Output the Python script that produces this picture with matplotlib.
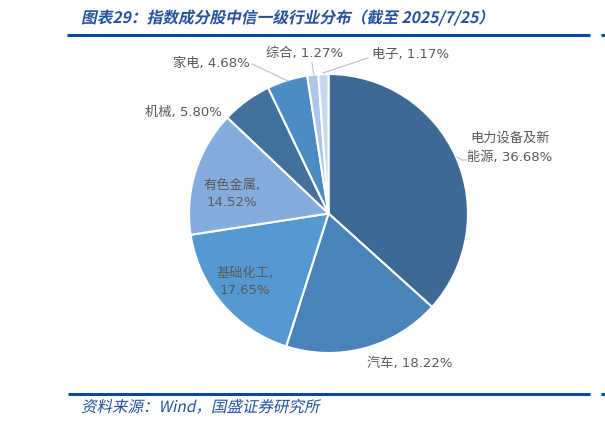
import matplotlib
matplotlib.use("Agg")
import matplotlib.pyplot as plt
from matplotlib.textpath import TextPath
from matplotlib.patches import PathPatch
from matplotlib.font_manager import FontProperties
from matplotlib.transforms import Affine2D

# 指数成分股中信一级行业分布（截至 2025/7/25）
industries = ["电力设备及新能源", "汽车", "基础化工", "有色金属", "机械", "家电", "综合", "电子"]
shares = [36.68, 18.22, 17.65, 14.52, 5.80, 4.68, 1.27, 1.17]
colors = ["#3D6A94", "#4A83B9", "#5599D3", "#84ACDC", "#42719E", "#4C8BC4", "#AEC6E7", "#C5D8EF"]

title = "图表29：指数成分股中信一级行业分布（截至 2025/7/25）"
source = "资料来源：Wind，国盛证券研究所"

W, H = 605, 426
fam = ["DejaVu Sans", "Noto Sans CJK SC"]
blue = "#1F4E9A"
grey = "#595959"

fig = plt.figure(figsize=(W / 100, H / 100), dpi=100)
ax = fig.add_axes([0, 0, 1, 1])
ax.set_xlim(0, W)
ax.set_ylim(0, H)
ax.set_aspect("equal")
ax.axis("off")


def py(y):
    # pixel row (from top) to data y
    return H - y


def slanted(x, y_base, s, size, weight="normal", color=blue):
    # CJK fonts have no italic face, so shear the glyph outlines by hand
    fp = FontProperties(family="Noto Sans CJK SC", weight=weight)
    tp = TextPath((0, 0), s, size=size, prop=fp)
    tr = Affine2D().skew_deg(12, 0).translate(x, py(y_base)) + ax.transData
    ax.add_patch(PathPatch(tp, transform=tr, facecolor=color, edgecolor="none"))


ax.pie(shares, colors=colors, startangle=90, counterclock=False,
       center=(328.5, py(213.5)), radius=139.5,
       wedgeprops=dict(edgecolor="white", linewidth=1.5))
ax.set_xlim(0, W)
ax.set_ylim(0, H)

lab = lambda s: f"{s:.2f}%"

# data labels
ax.text(510, py(138), "电力设备及新", ha="center", va="center", fontsize=9.5, family=fam, color=grey)
ax.text(510, py(158), f"能源, {lab(shares[0])}", ha="center", va="center", fontsize=9.5, family=fam, color=grey)
ax.text(410, py(363), f"汽车, {lab(shares[1])}", ha="center", va="center", fontsize=9.5, family=fam, color=grey)
ax.text(245, py(273), "基础化工,", ha="center", va="center", fontsize=9.5, family=fam, color=grey)
ax.text(245, py(290), lab(shares[2]), ha="center", va="center", fontsize=9.5, family=fam, color=grey)
ax.text(232, py(185), "有色金属,", ha="center", va="center", fontsize=9.5, family=fam, color=grey)
ax.text(232, py(202), lab(shares[3]), ha="center", va="center", fontsize=9.5, family=fam, color=grey)
ax.text(222, py(112), f"机械, {lab(shares[4])}", ha="right", va="center", fontsize=9.5, family=fam, color=grey)
ax.text(250, py(63), f"家电, {lab(shares[5])}", ha="right", va="center", fontsize=9.5, family=fam, color=grey)
ax.text(305, py(54), f"综合, {lab(shares[6])}", ha="center", va="center", fontsize=9.5, family=fam, color=grey)
ax.text(372, py(54), f"电子, {lab(shares[7])}", ha="left", va="center", fontsize=9.5, family=fam, color=grey)

# leader lines
lc = "#BFBFBF"
ax.plot([252, 288], [py(64), py(81)], color=lc, lw=0.8)
ax.plot([312, 314], [py(63), py(75)], color=lc, lw=0.8)
ax.plot([368, 323], [py(58), py(73)], color=lc, lw=0.8)
ax.plot([457, 462, 466], [py(157), py(160), py(160)], color=lc, lw=0.8)

# header / footer
slanted(81, 23, title, 15.7, weight="bold", color="#2452A0")
ax.plot([67, 590], [py(35), py(35)], color="#0B4A9A", lw=2.2, solid_capstyle="butt")
ax.plot([601, 605], [py(35), py(35)], color="#0B4A9A", lw=2.2, solid_capstyle="butt")
ax.plot([68, 590], [py(394), py(394)], color="#0B4A9A", lw=2.2, solid_capstyle="butt")
ax.plot([601, 605], [py(394), py(394)], color="#0B4A9A", lw=2.2, solid_capstyle="butt")
slanted(81, 412, source, 15.5, color="#2452A0")

fig.savefig("out.png", dpi=100)
